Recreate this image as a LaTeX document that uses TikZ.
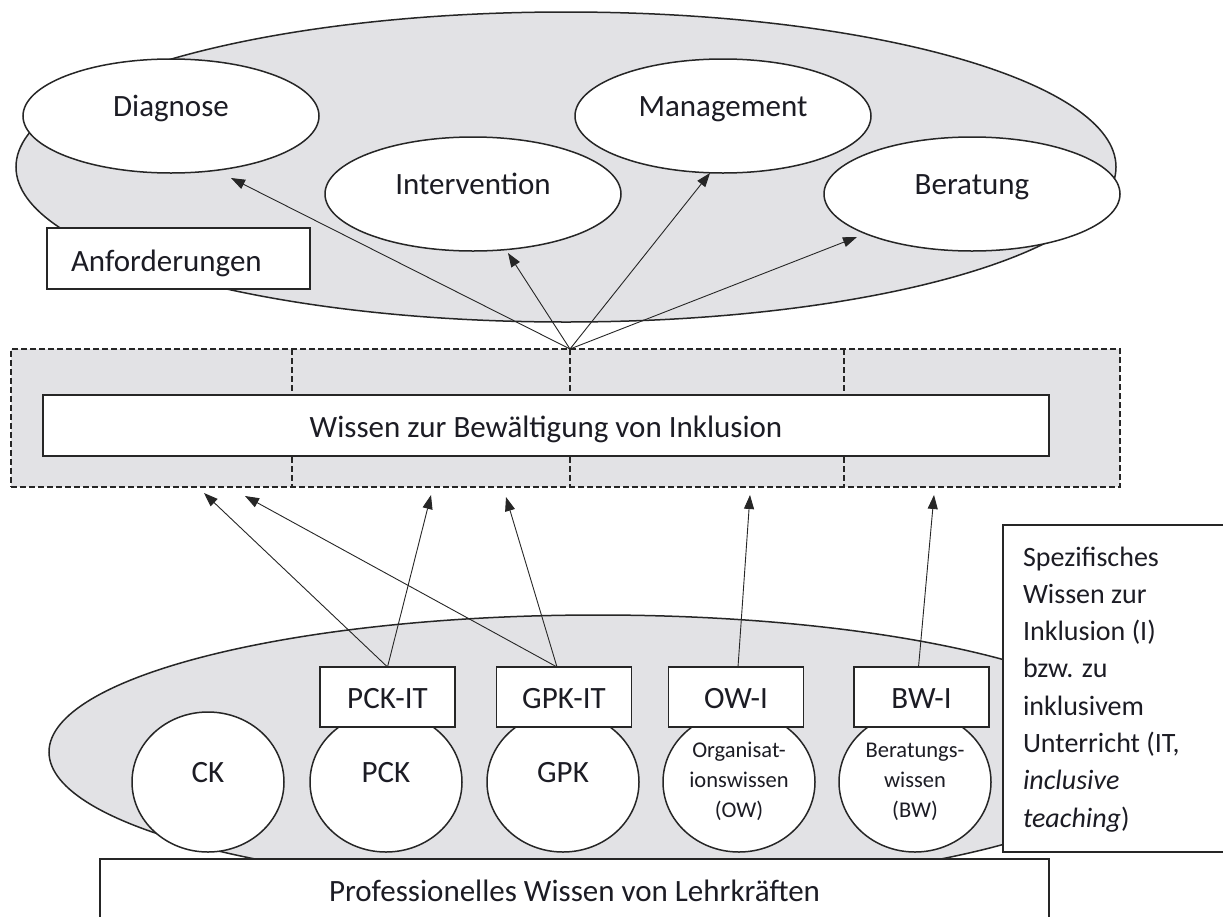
\documentclass[tikz,border=0pt]{standalone}
\usepackage{fontspec}
\setmainfont{Carlito}
\usetikzlibrary{arrows.meta,calc,shapes.geometric}
\definecolor{shade}{RGB}{226,226,229}
\definecolor{ink}{RGB}{38,38,38}
\definecolor{txt}{RGB}{28,28,36}
\newcommand\mylift[2]{\raisebox{#1}[0pt][0pt]{#2}}
\newcommand\threelines[3]{\raisebox{25pt}[0pt][0pt]{\vtop{\baselineskip=30pt\lineskiplimit=-100pt\halign{\hfil##\hfil\cr #1\cr #2\cr #3\cr}}}}
\newcommand\leftlines[1]{\vtop{\baselineskip=37.3pt\lineskiplimit=-100pt\halign{##\hfil\cr #1}}}
\begin{document}
\begin{tikzpicture}[x=1pt,y=-1pt,
  mainfont/.style={font=\fontsize{31}{37}\selectfont, text=txt},
  grayell/.style={ellipse, draw=ink, line width=1.5pt, fill=shade, inner sep=0pt, outer sep=0pt},
  reqell/.style={ellipse, draw=ink, line width=1.5pt, fill=white, minimum width=296pt, minimum height=114pt, inner sep=0pt, outer sep=0pt, mainfont},
  knowcirc/.style={ellipse, draw=ink, line width=1.5pt, fill=white, minimum width=152pt, minimum height=140pt, inner sep=0pt, outer sep=0pt, mainfont},
  itbox/.style={rectangle, draw=ink, line width=1.3pt, fill=white, minimum width=135pt, minimum height=60pt, inner sep=0pt, outer sep=0pt, mainfont},
  plainbox/.style={rectangle, draw=ink, line width=1.3pt, fill=white, inner sep=0pt, outer sep=0pt, mainfont},
  dashline/.style={draw=ink, line width=1.2pt, dash pattern=on 6pt off 3pt},
  arr/.style={draw=ink, line width=0.9pt, -{Triangle[length=14pt,width=10pt]}},
  smallfont/.style={font=\fontsize{22.5}{30}\selectfont, text=txt}
]
\useasboundingbox (0,0) rectangle (1223,916);
\fill[white] (0,0) rectangle (1223,916);

% top: requirements
\node[grayell, minimum width=1100pt, minimum height=310pt] (topell) at (566,167) {};
\node[reqell] (diag) at (171,116) {\mylift{0pt}{Diagnose}};
\node[reqell] (interv) at (473,194) {\mylift{0pt}{Intervention}};
\node[reqell] (mgmt) at (723,116) {\mylift{0pt}{Management}};
\node[reqell] (berat) at (972,194) {\mylift{0pt}{Beratung}};
\node[plainbox, minimum width=263pt, minimum height=61pt] (anf) at (178.5,258.5) {\mylift{-12.5pt}{\makebox[215pt][l]{Anforderungen}}};

% middle: knowledge for inclusion
\node[rectangle, fill=shade, dashline, minimum width=1109pt, minimum height=138pt, inner sep=0pt, outer sep=0pt] (dbox) at (565.5,418) {};
\draw[dashline] (292,349) -- (292,487);
\draw[dashline] (570,349) -- (570,487);
\draw[dashline] (844,349) -- (844,487);
\node[plainbox, minimum width=1006pt, minimum height=61pt] (wissen) at (546,425.5) {\mylift{-12pt}{Wissen zur Bewältigung von Inklusion}};
\coordinate (hub) at ([xshift=4.5pt]dbox.north);

% bottom: professional knowledge
\node[grayell, minimum width=1098pt, minimum height=274pt] (botell) at (598,752) {};
\node[knowcirc] (ck) at (208,782) {\mylift{0pt}{CK}};
\node[knowcirc] (pck) at (386,782) {\mylift{0pt}{PCK}};
\node[knowcirc] (gpk) at (563,782) {\mylift{0pt}{GPK}};
\node[knowcirc, smallfont] (ow) at (739,782) {\threelines{Organisat-}{ionswissen}{(OW)}};
\node[knowcirc, smallfont] (bw) at (915,782) {\threelines{Beratungs-}{wissen}{(BW)}};
\node[itbox] (pckit) at (387.5,697) {\mylift{-11pt}{PCK-IT}};
\node[itbox] (gpkit) at (564,697) {\mylift{-11pt}{GPK-IT}};
\node[itbox] (owi) at (736,697) {\mylift{-11pt}{OW-I}};
\node[itbox] (bwi) at (921.5,697) {\mylift{-11pt}{BW-I}};
\node[plainbox, minimum width=949pt, minimum height=81pt] (prof) at (574.5,899.5) {\mylift{-1.5pt}{Professionelles Wissen von Lehrkräften}};
\node[plainbox, minimum width=237pt, minimum height=327pt, font=\fontsize{28}{37.3}\selectfont] (spez) at (1121.5,688.5)
  {\raisebox{122.5pt}[0pt][0pt]{\makebox[197pt][l]{\leftlines{Spezifisches\cr Wissen zur\cr Inklusion (I)\cr bzw. zu\cr inklusivem\cr Unterricht (IT,\cr \textit{inclusive}\cr \textit{teaching})\cr}}}};

% arrows up to requirements
\draw[arr] (hub) -- ($(diag.center)+(60,62)$);
\draw[arr] (hub) -- ($(interv.center)+(35,59)$);
\draw[arr] (hub) -- ($(mgmt.center)+(-13,57)$);
\draw[arr] (hub) -- ($(berat.center)+(-115,43)$);

% arrows up to knowledge for inclusion
\draw[arr] (pckit.north) -- ($(dbox.south west)+(193,6)$);
\draw[arr] (pckit.north) -- ($(dbox.south west)+(420,8)$);
\draw[arr] ([xshift=-7pt]gpkit.north) -- ($(dbox.south west)+(234,9)$);
\draw[arr] ([xshift=-7pt]gpkit.north) -- ($(dbox.south west)+(495,10)$);
\draw[arr] ([xshift=2pt]owi.north) -- ($(dbox.south west)+(739,8)$);
\draw[arr] ([xshift=-3pt]bwi.north) -- ($(dbox.south west)+(923,8)$);
\end{tikzpicture}
\end{document}
